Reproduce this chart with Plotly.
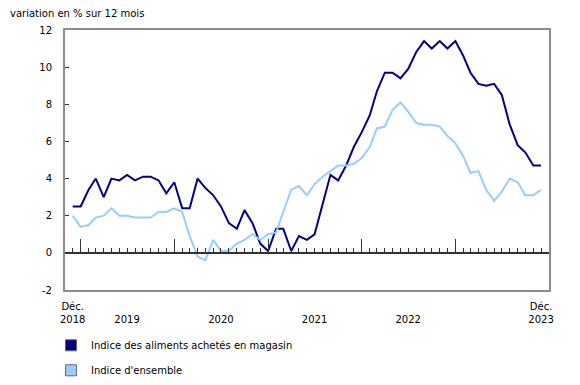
import plotly.graph_objects as go
import pandas as pd

months = pd.date_range("2018-12-01", "2023-12-01", freq="MS").strftime("%Y-%m-%d").tolist()

food_stores = [2.5,
               2.5, 3.4, 4.0, 3.0, 4.0, 3.9, 4.2, 3.9, 4.1, 4.1, 3.9, 3.2,
               3.8, 2.4, 2.4, 4.0, 3.5, 3.1, 2.5, 1.6, 1.3, 2.3, 1.6, 0.5,
               0.1, 1.3, 1.3, 0.1, 0.9, 0.7, 1.0, 2.6, 4.2, 3.9, 4.7, 5.7,
               6.5, 7.4, 8.7, 9.7, 9.7, 9.4, 9.9, 10.8, 11.4, 11.0, 11.4, 11.0,
               11.4, 10.6, 9.7, 9.1, 9.0, 9.1, 8.5, 6.9, 5.8, 5.4, 4.7, 4.7]

all_items = [2.0,
             1.4, 1.5, 1.9, 2.0, 2.4, 2.0, 2.0, 1.9, 1.9, 1.9, 2.2, 2.2,
             2.4, 2.2, 0.9, -0.2, -0.4, 0.7, 0.1, 0.1, 0.5, 0.7, 1.0, 0.7,
             1.0, 1.1, 2.2, 3.4, 3.6, 3.1, 3.7, 4.1, 4.4, 4.7, 4.7, 4.8,
             5.1, 5.7, 6.7, 6.8, 7.7, 8.1, 7.6, 7.0, 6.9, 6.9, 6.8, 6.3,
             5.9, 5.2, 4.3, 4.4, 3.4, 2.8, 3.3, 4.0, 3.8, 3.1, 3.1, 3.4]

series_names = ["Indice des aliments achetés en magasin", "Indice d'ensemble"]
series_colors = ["#000080", "#99ccff"]

x_tickvals = ["2018-12-01", "2019-07-01", "2020-07-01", "2021-07-01", "2022-07-01", "2023-12-01"]
x_ticktext = ["Déc.<br>2018", " <br>2019", " <br>2020", " <br>2021", " <br>2022", "Déc.<br>2023"]

y_tickvals = [-2, 0, 2, 4, 6, 8, 10, 12]
y_ticktext = ["-2", "0", "2", "4", "6", "8", "10", "12"]

x_range = ["2018-11-01", "2024-01-01"]

FONT = "DejaVu Sans, Verdana, sans-serif"
FRAME = "#8c8c8c"
DARK = "#333333"

fig = go.Figure()
# invisible trace so the zero-line axis (x2) is drawn
fig.add_trace(go.Scatter(x=[months[0], months[-1]], y=[None, None], xaxis="x2",
                         mode="lines", showlegend=False, hoverinfo="skip"))
for vals, name, col in zip([food_stores, all_items], series_names, series_colors):
    fig.add_trace(go.Scatter(x=months, y=vals, mode="lines", name=name,
                             line=dict(color=col, width=2), showlegend=False,
                             hoverinfo="x+y"))
for i, (name, col) in enumerate(zip(series_names, series_colors)):
    fig.add_trace(go.Scatter(x=[None], y=[None], mode="markers", name=name,
                             legendgroup=f"g{i}",
                             marker=dict(symbol="square", size=11, color=col,
                                         line=dict(color="#666666", width=1))))

fig.update_layout(
    width=580, height=385,
    margin=dict(l=65, r=31, t=30, b=95, autoexpand=False),
    paper_bgcolor="white", plot_bgcolor="white",
    font=dict(family=FONT, size=10, color="#000000"),
    title=dict(text="variation en % sur 12 mois", xref="container", yref="container",
               x=10/580, xanchor="left", y=1-13/385, yanchor="middle",
               font=dict(family=FONT, size=10, color="#000000")),
    showlegend=True,
    legend=dict(x=-0.029, xanchor="left", y=-0.157, yanchor="top",
                orientation="v", tracegroupgap=6, traceorder="grouped",
                font=dict(family=FONT, size=10, color="#000000"),
                bgcolor="rgba(0,0,0,0)"),
    xaxis=dict(type="date", range=x_range, showgrid=False, zeroline=False,
               showline=True, linecolor=FRAME, linewidth=2, mirror=True,
               ticks="", tickmode="array", tickvals=x_tickvals, ticktext=x_ticktext,
               ticklabelstandoff=6, automargin=False,
               tickfont=dict(family=FONT, size=10, color="#000000")),
    xaxis2=dict(type="date", range=x_range, overlaying="x", anchor="free",
                position=2/14, side="bottom", showgrid=False, zeroline=False,
                showline=True, linecolor=DARK, linewidth=1.5,
                ticks="inside", ticklen=13, tickwidth=1, tickcolor=DARK,
                tickmode="linear", tick0="2019-01-01", dtick="M12",
                minor=dict(ticks="inside", ticklen=4, tickwidth=1, tickcolor=DARK,
                           dtick="M1", tick0="2018-12-01", showgrid=False),
                showticklabels=False, automargin=False),
    yaxis=dict(range=[-2, 12], tickmode="array", tickvals=y_tickvals, ticktext=y_ticktext,
               showgrid=False, zeroline=False,
               showline=True, linecolor=FRAME, linewidth=2, mirror=True,
               ticks="inside", ticklen=4, tickcolor=DARK, tickwidth=1,
               ticklabelstandoff=9, automargin=False,
               tickfont=dict(family=FONT, size=10, color="#000000")),
)

fig.write_html("out.html")
